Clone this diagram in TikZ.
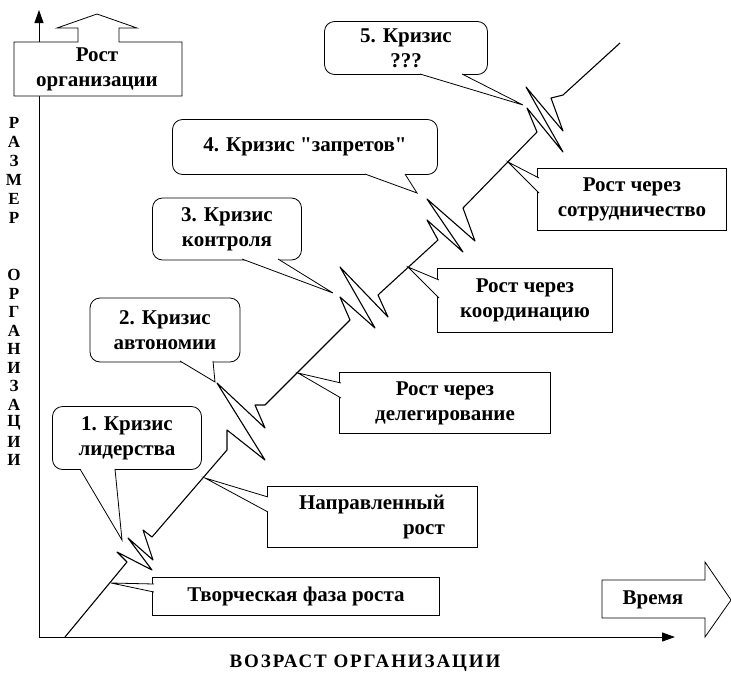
\documentclass[tikz,border=0pt]{standalone}
\usepackage{fontspec}
\setmainfont{Liberation Serif}[Ligatures=TeXOff]
\newfontfamily\sperrfont[LetterSpace=10]{Liberation Serif}
\usetikzlibrary{arrows.meta}

\begin{document}
\begin{tikzpicture}[x=1pt,y=-1pt,
  txt/.style={inner sep=0pt,align=center,font=\fontsize{21}{25}\selectfont\bfseries},
  box/.style={txt,draw,fill=white,line width=0.8pt},
  krisis/.style={box,rounded corners=10pt},
  zunge/.style={draw,fill=white,line width=0.8pt},
  buchst/.style={inner sep=0pt,font=\fontsize{17}{17}\selectfont\bfseries},
  achse/.style={line width=1pt,-{Triangle[length=13pt,width=9pt]}}]

\useasboundingbox (0,0) rectangle (731,675);

\draw[achse] (39,637) -- (39,10);								% ось размера
\draw[achse] (39,637) -- (675,637);								% ось времени

\draw[fill=white,line width=0.8pt] (14,96) -- (14,42) -- (78,42) -- (78,28) -- (57,28) -- (97,14) -- (137,28) -- (119,28) -- (119,42) -- (182,42) -- (182,96) -- cycle;	% стрелка вверх
\node[txt] (rost) at (97,69) {Рост\\организации};
\draw[fill=white,line width=0.8pt] (602,580) -- (705,580) -- (705,562) -- (731,600) -- (705,637) -- (705,618) -- (602,618) -- cycle;	% стрелка вправо
\node[txt] (vremya) at (653,600) {Время};

\node[font=\sperrfont\fontsize{19}{19}\selectfont\bfseries] (vozrast) at (365,663) {ВОЗРАСТ ОРГАНИЗАЦИИ};
\foreach \ch [count=\i] in {Р,А,З,М,Е,Р}
  \node[buchst] (r\i) at (14,{123+19*(\i-1)}) {\ch};					% РАЗМЕР
\foreach \ch [count=\i] in {О,Р,Г,А,Н,И,З,А,Ц,И,И}
  \node[buchst] (o\i) at (14,{275+18.5*(\i-1)}) {\ch};				% ОРГАНИЗАЦИИ

\node[box,minimum width=287pt,minimum height=38pt] (tvor) at (296,596) {Творческая фаза роста};
\node[box,minimum width=210pt,minimum height=61pt,align=right] (naprav) at (372,517) {Направленный\\рост};
\node[box,minimum width=211pt,minimum height=61pt] (deleg) at (445,403) {Рост через\\делегирование};
\node[box,minimum width=175pt,minimum height=64pt] (koord) at (525,300) {Рост через\\координацию};
\node[box,minimum width=189pt,minimum height=62pt] (sotr) at (632,199) {Рост через\\сотрудничество};

\node[krisis,minimum width=149pt,minimum height=63pt] (kr1) at (127,438) {1. Кризис\\лидерства};
\node[krisis,minimum width=150pt,minimum height=64pt] (kr2) at (165,330) {2. Кризис\\автономии};
\node[krisis,minimum width=149pt,minimum height=62pt] (kr3) at (227,229) {3. Кризис\\контроля};
\node[krisis,minimum width=265pt,minimum height=55pt] (kr4) at (305,147) {4. Кризис "запретов"};
\node[krisis,minimum width=163pt,minimum height=53pt] (kr5) at (406,48) {5. Кризис\\???};

\coordinate (zt) at (111,583);
\coordinate (zn) at (205,478);
\coordinate (zd) at (298,373);
\coordinate (zk) at (408,267);
\coordinate (zs) at (508,162);
\coordinate (k1) at (122,540);
\coordinate (k2) at (215,382);
\coordinate (k3) at (333,293);
\coordinate (k4) at (417,193);
\coordinate (k5) at (523,105);

\draw[zunge] (154,584) -- (zt) -- (154,592);						% хвост к фазам
\draw[zunge] (268,497) -- (zn) -- (268,512);
\draw[zunge] (341,383) -- (zd) -- (341,398);
\draw[zunge] (439,280) -- (zk) -- (439,298);
\draw[zunge] (539,178) -- (zs) -- (539,193);
\draw[zunge] (80,469) -- (k1) -- (115,469);						% хвост к кризисам
\draw[zunge] (180,361) -- (k2) -- (213,361);
\draw[zunge] (242,259) -- (k3) -- (278,259);
\draw[zunge] (365,174) -- (k4) -- (405,174);
\draw[zunge] (420,74) -- (k5) -- (462,74);

\draw[line width=1.1pt,line join=round] (65,637) -- (127,562)
  -- (117,552) -- (152,570) -- (128,538) -- (153,560) -- (143,530) -- (152,537)		% кризис 1
  -- (227,450) -- (227,430) -- (265,460) -- (217,383) -- (265,428) -- (255,405) -- (265,405)	% кризис 2
  -- (350,320) -- (340,297) -- (375,328) -- (340,267) -- (388,317) -- (378,295)		% кризис 3
  -- (438,240) -- (427,220) -- (463,252) -- (427,199) -- (475,241) -- (463,208)		% кризис 4
  -- (537,132) -- (527,108) -- (563,152) -- (526,87) -- (563,131) -- (551,98) -- (563,95)	% кризис 5
  -- (620,43);

\end{tikzpicture}
\end{document}
